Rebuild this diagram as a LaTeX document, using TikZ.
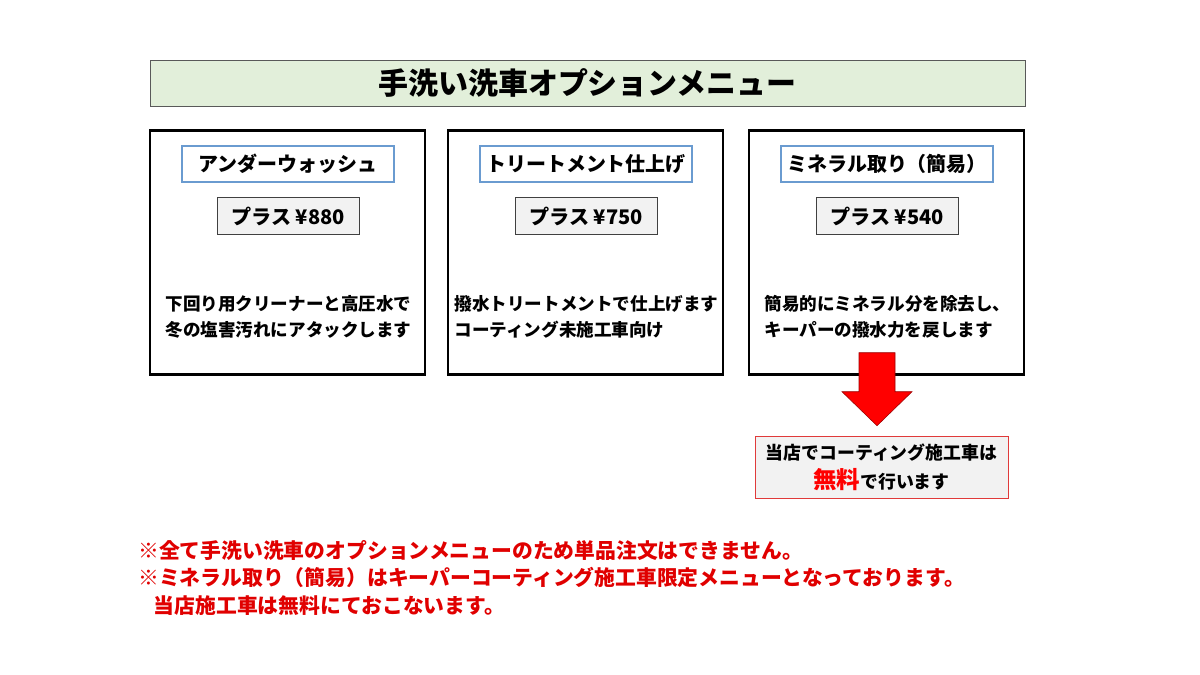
\documentclass[tikz,border=0pt]{standalone}
\usepackage{fontspec}
\setmainfont{Noto Sans CJK JP}
\usepackage{tikz}
\usetikzlibrary{positioning,calc}
\definecolor{titlefill}{HTML}{E2EFDA}
\definecolor{namecolor}{HTML}{6A9BD0}
\definecolor{pricefill}{HTML}{F2F2F2}
\definecolor{notecolor}{HTML}{E03A3A}
\definecolor{warncolor}{HTML}{E00000}
\tikzset{
    title box/.style={draw=black!65,thin,fill=titlefill,minimum width={875*0.025cm},minimum height={46*0.025cm},inner sep=0pt,font=\fontsize{21.3}{26}\bfseries},
    menu box/.style={draw=black,line width=2.1pt,minimum width={275*0.025cm},minimum height={244*0.025cm},inner sep=0pt},
    name box/.style={draw=namecolor,line width=1.4pt,fill=white,minimum width={212*0.025cm},minimum height={36*0.025cm},inner sep=0pt,font=\fontsize{14.2}{17}\bfseries},
    price box/.style={draw=black!75,thin,fill=pricefill,minimum width={142*0.025cm},minimum height={37*0.025cm},inner sep=0pt,font=\fontsize{14.3}{17}\bfseries},
    desc text/.style={align=left,inner sep=0pt,font=\fontsize{12.5}{18.5}\bfseries},
    note box/.style={draw=notecolor,thin,fill=pricefill,minimum width={253*0.025cm},minimum height={62*0.025cm},inner sep=0pt,align=center,font=\fontsize{12.7}{20.5}\bfseries},
    block arrow/.style={draw=red!60!black,thin,fill=red},
    warn text/.style={warncolor,align=left,anchor=north west,inner sep=0pt,font=\fontsize{14.8}{19.6}\bfseries},
}
\tikzstyle{every node}=[font=\bfseries]

\begin{document}
\begin{tikzpicture}[x=0.025cm,y=-0.025cm]
    \useasboundingbox (0,0) rectangle (1200,675);

    \node[title box] (title) at (587.5,83) {手洗い洗車オプションメニュー};

    \foreach \i/\x/\name/\price/\desc in {
        1/287.5/アンダーウォッシュ/880/{下回り用クリーナーと高圧水で\\冬の塩害汚れにアタックします},
        2/585.5/トリートメント仕上げ/750/{撥水トリートメントで仕上げます\\コーティング未施工車向け},
        3/886.5/ミネラル取り（簡易）/540/{簡易的にミネラル分を除去し、\\キーパーの撥水力を戻します}} {
        \node[menu box] (menu\i) at (\x,252.5) {};
        \node[name box] (name\i) at (\x+0.5,164) {\name};
        \node[price box] (price\i) at (\x+0.5,216) {プラス ¥\price};
        \node[desc text] (desc\i) at (\x+1,317) {\desc};
    }

    % red arrow from the mineral box down to the note
    \node[note box] (note) at (881.5,467) {当店でコーティング施工車は\\{\fontsize{16.7}{20.5}\selectfont\color{red}無料}で行います};
    \coordinate (tip) at ($(note.north)+(-4.5,-10)$);
    \draw[block arrow] (tip) -- ++(-35,-34) -- ++(17,0) -- ++(0,-39) -- ++(36,0) -- ++(0,39) -- ++(17,0) -- cycle;

    \node[warn text] (warn) at (138,540) {※全て手洗い洗車のオプションメニューのため単品注文はできません。\\
        ※ミネラル取り（簡易）はキーパーコーティング施工車限定メニューとなっております。\\
        \hspace*{0.75em}当店施工車は無料にておこないます。};
\end{tikzpicture}
\end{document}
